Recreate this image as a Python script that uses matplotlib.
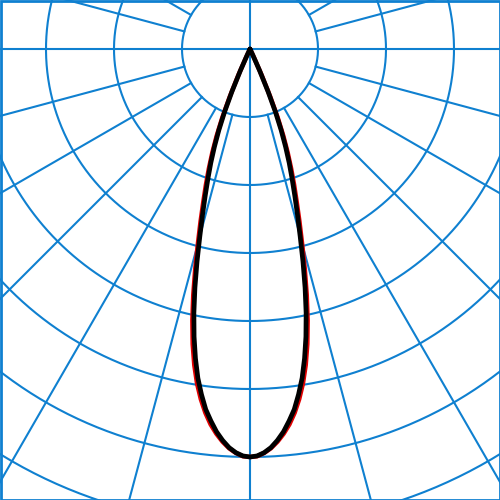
import numpy as np
import matplotlib
matplotlib.use("Agg")
import matplotlib.pyplot as plt

# Luminous intensity distribution (relative units; 1 unit = one grid ring)
angles_deg = [-26, -25, -24, -23, -22, -21, -20, -19, -18, -17, -16, -15, -14,
              -13, -12, -11, -10, -9, -8, -7, -6, -5, -4, -3, -2, -1,
              0, 1, 2, 3, 4, 5, 6, 7, 8, 9, 10, 11, 12, 13, 14, 15, 16, 17,
              18, 19, 20, 21, 22, 23, 24, 25, 26]
plane_c0 = [0.0, 0.09, 0.35, 0.68, 1.00, 1.28, 1.53, 1.77, 2.00, 2.25, 2.53,
            2.85, 3.22, 3.60, 3.97, 4.31, 4.62, 4.90, 5.13, 5.34, 5.50, 5.65,
            5.77, 5.87, 5.94, 5.985,
            6.0, 5.985, 5.94, 5.87, 5.77, 5.65, 5.50, 5.34, 5.13, 4.90, 4.62,
            4.31, 3.97, 3.60, 3.22, 2.85, 2.53, 2.25, 2.00, 1.77, 1.53, 1.28,
            1.00, 0.68, 0.35, 0.09, 0.0]
plane_c90 = [0.0, 0.14, 0.42, 0.76, 1.09, 1.37, 1.62, 1.86, 2.10, 2.35, 2.64,
             2.96, 3.33, 3.71, 4.08, 4.42, 4.72, 4.98, 5.20, 5.39, 5.55, 5.68,
             5.79, 5.88, 5.945, 5.99,
             6.0, 5.99, 5.945, 5.88, 5.79, 5.68, 5.55, 5.39, 5.20, 4.98, 4.72,
             4.42, 4.08, 3.71, 3.33, 2.96, 2.64, 2.35, 2.10, 1.86, 1.62, 1.37,
             1.09, 0.76, 0.42, 0.14, 0.0]

ring_values = [1, 2, 3, 4, 5, 6, 7, 8, 9, 10]
spoke_angles = list(range(0, 360, 15))

grid_color = "#0f80d0"

fig = plt.figure(figsize=(5, 5), dpi=100)
ax = fig.add_axes([0, 0, 1, 1])
ax.set_aspect("equal")
scale = 68.0
ax.set_xlim(-250 / scale, 250 / scale)
ax.set_ylim(-451 / scale, 49 / scale)
ax.axis("off")

# rings
t = np.linspace(0, 2 * np.pi, 721)
for r in ring_values:
    ax.plot(r * np.sin(t), r * np.cos(t), color=grid_color, lw=1.5, zorder=1)

# spokes
for a in spoke_angles:
    rad = np.deg2rad(a)
    r0 = 0.0 if a % 90 == 0 else 1.0
    ax.plot([r0 * np.sin(rad), 12 * np.sin(rad)],
            [-r0 * np.cos(rad), -12 * np.cos(rad)],
            color=grid_color, lw=1.5, zorder=1)

def polar_xy(angs, vals):
    th = np.deg2rad(np.array(angs, dtype=float))
    v = np.array(vals, dtype=float)
    return v * np.sin(th), -v * np.cos(th)

xr, yr = polar_xy(angles_deg, plane_c90)
ax.plot(xr, yr, color="#e00000", lw=3.2, zorder=3,
        solid_joinstyle="round", solid_capstyle="round")
xb, yb = polar_xy(angles_deg, plane_c0)
ax.plot(xb, yb, color="black", lw=3.4, zorder=4,
        solid_joinstyle="round", solid_capstyle="round")

# frame
fig.patches.append(plt.Rectangle((0.001, 0.001), 0.998, 0.998, transform=fig.transFigure,
                                 fill=False, edgecolor=grid_color, lw=2.0, zorder=10))

fig.savefig("out.png", dpi=100)
